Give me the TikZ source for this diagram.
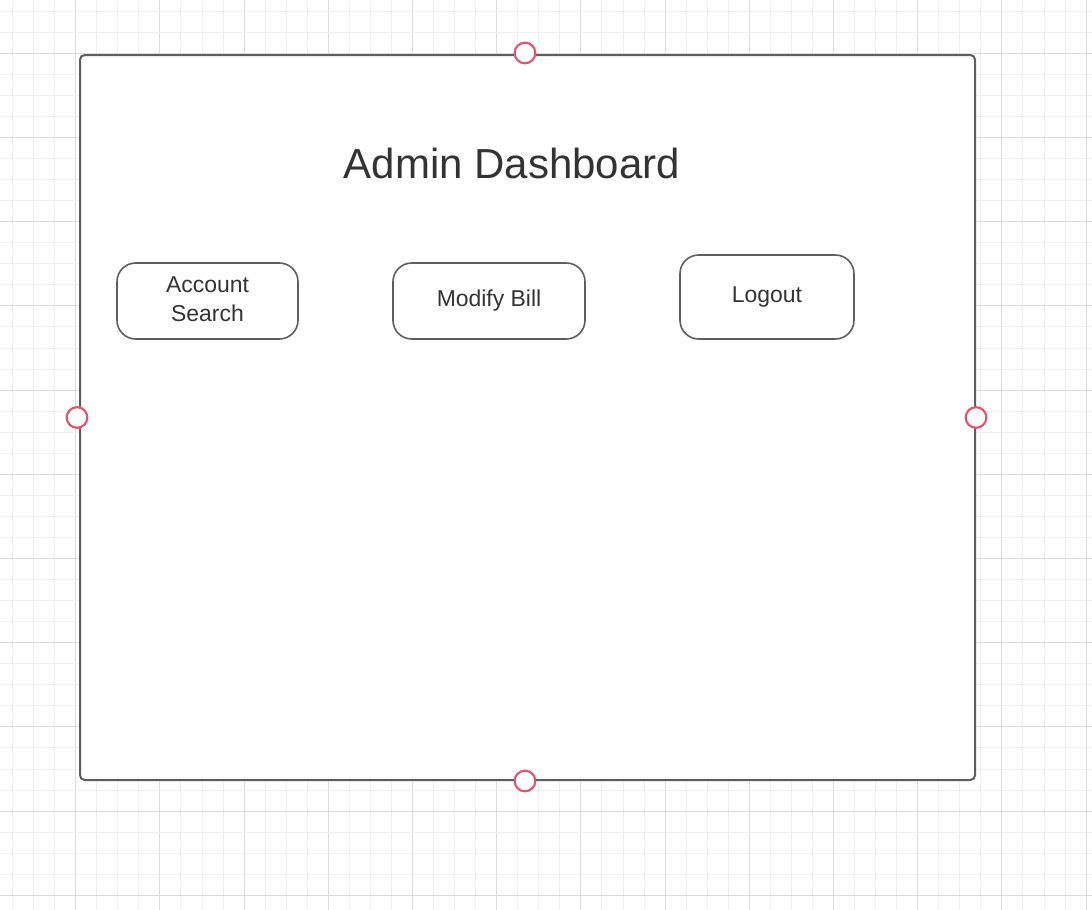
\documentclass[tikz,border=0pt]{standalone}
\usepackage{fontspec}
\setmainfont{Liberation Sans}
\definecolor{gridminor}{HTML}{EFEFEF}
\definecolor{gridmajor}{HTML}{DCDCDC}
\definecolor{edgegray}{HTML}{5E5E5E}
\definecolor{txtgray}{HTML}{333333}
\definecolor{pinred}{HTML}{E2566B}
\tikzset{
  panel/.style={draw=edgegray, line width=1.5pt, rounded corners=3.5pt, fill=white},
  btn/.style={draw=edgegray, line width=1.2pt, rounded corners=14pt, fill=white,
    text=txtgray, font=\fontsize{17.2pt}{21.75pt}\selectfont, align=center, inner sep=0pt},
  pin/.style={circle, draw=pinred, line width=1.6pt, fill=white, minimum size=15.5pt, inner sep=0pt},
  titletxt/.style={text=txtgray, font=\fontsize{31.5pt}{36pt}\selectfont, inner sep=0pt},
  minorline/.style={gridminor, line width=0.75pt},
  majorline/.style={gridmajor, line width=0.75pt}
}
\begin{document}
\begin{tikzpicture}[x=0.75pt,y=-0.75pt]
\useasboundingbox (0,0) rectangle (1092,910);
\fill[white] (0,0) rectangle (1092,910);
% grid
\foreach \i in {0,...,52} {
  \pgfmathsetmacro{\gx}{12.55+21.05*\i}
  \pgfmathtruncatemacro{\m}{mod(\i+1,4)}
  \ifnum\m=0\relax
    \draw[majorline] (\gx,0) -- (\gx,910);
  \else
    \draw[minorline] (\gx,0) -- (\gx,910);
  \fi
}
\foreach \i in {0,...,43} {
  \pgfmathsetmacro{\gy}{11.2+21.05*\i}
  \pgfmathtruncatemacro{\m}{mod(\i+2,4)}
  \ifnum\m=0\relax
    \draw[majorline] (0,\gy) -- (1092,\gy);
  \else
    \draw[minorline] (0,\gy) -- (1092,\gy);
  \fi
}
% panel
\node[panel, minimum width=671.25pt, minimum height=543.75pt, inner sep=0pt] (frame) at (527.5,417.5) {};
\node[titletxt] (title) at (512,163) {Admin Dashboard};
% buttons
\node[btn, minimum width=135.75pt, minimum height=57pt] (acct) at (207.5,301) {\raisebox{2.5pt}{\begin{tabular}{@{}c@{}}Account\\[0.3pt]Search\end{tabular}}};
\node[btn, minimum width=144pt, minimum height=57pt] (modify) at (489,301) {\raisebox{2.5pt}{Modify Bill}};
\node[btn, minimum width=130.5pt, minimum height=63pt] (logout) at (767,297) {\raisebox{2.5pt}{Logout}};
% connection pins
\node[pin] (pt) at ([xshift=-1.9pt,yshift=0.75pt]frame.north) {};
\node[pin] (pb) at ([xshift=-1.9pt]frame.south) {};
\node[pin] (pl) at ([xshift=-1.5pt]frame.west) {};
\node[pin] (pr) at (frame.east) {};
\end{tikzpicture}
\end{document}
